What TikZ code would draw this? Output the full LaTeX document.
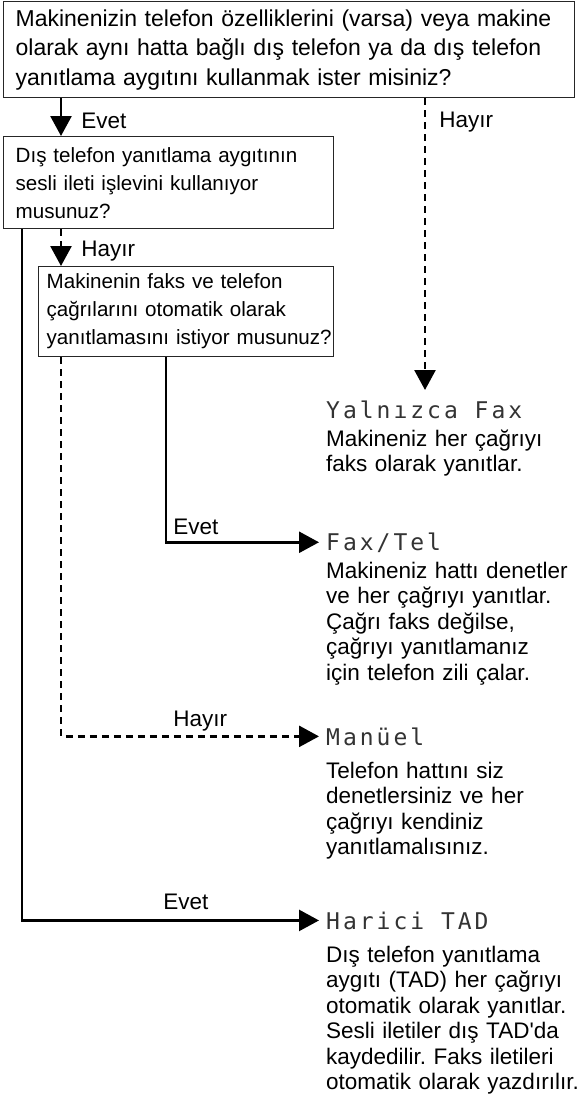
\documentclass[tikz,border=0pt]{standalone}
\usepackage{fontspec}
\setmainfont{Liberation Sans}
\newfontfamily\lcdfont[LetterSpace=13]{DejaVu Sans Mono}
\usetikzlibrary{arrows.meta}
\frenchspacing

\tikzset{
  qbox/.style={draw=black!85, line width=1.3pt, anchor=north west, align=left,
    inner xsep=12pt, font=\fontsize{23}{29.5}\selectfont},
  qsmall/.style={qbox, font=\fontsize{20.6}{28}\selectfont},
  yesline/.style={line width=2.6pt, -{Triangle[width=21pt,length=20pt]}},
  noline/.style={yesline, dash pattern=on 7pt off 5pt},
  lbl/.style={font=\fontsize{22.5}{25.5}\selectfont, inner sep=0pt},
  mode/.style={font=\fontsize{23}{23}\lcdfont, text=black!80, inner xsep=7pt,
    inner ysep=0pt, anchor=base west},
  desc/.style={lbl, align=left, text width=262pt, anchor=base west},
}

\begin{document}
\begin{tikzpicture}[x=1pt,y=-1pt]
  \useasboundingbox (0,0) rectangle (577,1100);

  % questions
  \node[qbox, minimum width=571pt, minimum height=96pt, text width=547pt] (q1) at (3,1)
    {Makinenizin telefon özelliklerini (varsa) veya makine\\
     olarak aynı hatta bağlı dış telefon ya da dış telefon\\
     yanıtlama aygıtını kullanmak ister misiniz?};
  \node[qsmall, minimum width=330pt, minimum height=92pt, text width=306pt] (q2) at (3,136)
    {Dış telefon yanıtlama aygıtının\\
     sesli ileti işlevini kullanıyor\\
     musunuz?};
  \node[qsmall, inner xsep=8pt, minimum width=295pt, minimum height=90pt, text width=279pt] (q3) at (38,266)
    {Makinenin faks ve telefon\\
     çağrılarını otomatik olarak\\
     \mbox{yanıtlamasını istiyor musunuz?}};

  % modes
  \node[mode] (fax) at (319,418) {Yalnızca Fax};
  \node[desc] (faxd) at (326,446) {Makineniz her çağrıyı\\faks olarak yanıtlar.};

  \node[mode] (faxtel) at (319,550) {Fax/Tel};
  \node[desc] (faxteld) at (326,578) {Makineniz hattı denetler\\ve her çağrıyı yanıtlar.\\
    Çağrı faks değilse,\\çağrıyı yanıtlamanız\\için telefon zili çalar.};

  \node[mode] (manual) at (319,745) {Manüel};
  \node[desc] (manuald) at (326,778) {Telefon hattını siz\\denetlersiniz ve her\\
    çağrıyı kendiniz\\yanıtlamalısınız.};

  \node[mode] (tad) at (319,929) {Harici TAD};
  \node[desc] (tadd) at (326,962) {Dış telefon yanıtlama\\aygıtı (TAD) her çağrıyı\\
    otomatik olarak yanıtlar.\\Sesli iletiler dış TAD\textquotesingle da\\
    kaydedilir. Faks iletileri\\otomatik olarak yazdırılır.};

  % connectors
  \coordinate (e1) at (61,0);
  \coordinate (e2) at (22,0);
  \coordinate (e3) at (166,0);
  \coordinate (h1) at (425,390);

  \draw[yesline] (q1.south -| e1) -- (q2.north -| e1)
    node[lbl, pos=0.6, anchor=west, xshift=19pt] {Evet};
  \draw[noline] (q1.south -| h1) -- (h1)
    node[lbl, pos=0.08, anchor=west, xshift=13pt] {Hayır};
  \draw[noline] (q2.south -| e1) -- (q3.north -| e1)
    node[lbl, pos=0.6, anchor=west, xshift=19pt] {Hayır};
  \draw[yesline] (q3.south -| e3) |- (faxtel.west)
    node[lbl, pos=0.52, anchor=base west, yshift=8pt] {Evet};
  \draw[noline] (q3.south -| e1) |- (manual.west)
    node[lbl, pos=0.77, anchor=base, yshift=10pt] {Hayır};
  \draw[yesline] (q2.south -| e2) |- (tad.west)
    node[lbl, pos=0.776, anchor=base, yshift=11pt] {Evet};
\end{tikzpicture}
\end{document}
